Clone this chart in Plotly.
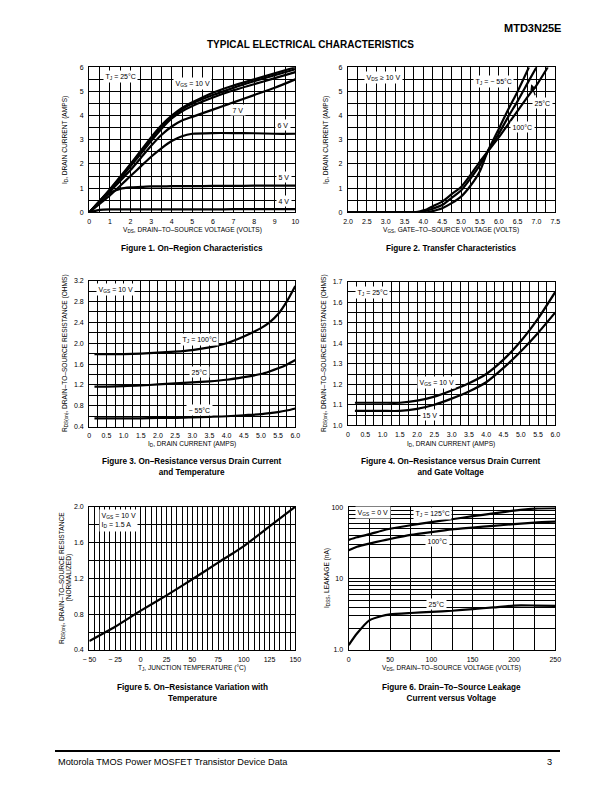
import plotly.graph_objects as go

# page is 612x792; the html body adds an 8px margin, so the figure is 596x776 offset by 8px
PAGE_OFF = 8
W, H = 612 - 2 * PAGE_OFF, 792 - 2 * PAGE_OFF
FONT = "Liberation Sans, Arial, Helvetica, sans-serif"

# ---------------- DATA ----------------
# Figure 1: On-Region Characteristics (VDS vs ID for VGS curves)
f1_vds = [0, 0.5, 1, 1.5, 2, 2.5, 3, 3.5, 4, 4.5, 5, 6, 7, 8, 9, 10]
f1_id = {
    "10 V": [0, 0.47, 0.95, 1.47, 2.0, 2.55, 3.1, 3.6, 4.0, 4.32, 4.55, 4.95, 5.25, 5.5, 5.75, 6.0],
    "9 V":  [0, 0.46, 0.93, 1.44, 1.95, 2.5, 3.05, 3.55, 3.95, 4.27, 4.5, 4.85, 5.15, 5.42, 5.67, 5.92],
    "8 V":  [0, 0.45, 0.9, 1.4, 1.9, 2.42, 2.95, 3.45, 3.88, 4.18, 4.4, 4.75, 5.05, 5.3, 5.55, 5.8],
    "7 V":  [0, 0.42, 0.85, 1.3, 1.75, 2.25, 2.75, 3.2, 3.55, 3.8, 3.95, 4.25, 4.55, 4.85, 5.15, 5.5],
    "6 V":  [0, 0.35, 0.7, 1.1, 1.5, 1.9, 2.3, 2.65, 2.95, 3.15, 3.25, 3.28, 3.28, 3.27, 3.25, 3.25],
    "5 V":  [0, 0.45, 0.8, 0.97, 1.03, 1.05, 1.07, 1.07, 1.08, 1.08, 1.08, 1.09, 1.09, 1.1, 1.1, 1.1],
    "4 V":  [0, 0.1, 0.12, 0.12, 0.12, 0.12, 0.12, 0.12, 0.12, 0.12, 0.12, 0.12, 0.13, 0.13, 0.13, 0.13],
}

# Figure 2: Transfer Characteristics (VGS vs ID for TJ)
f2_vgs = [2.0, 3.0, 3.75, 3.85, 4.0, 4.1, 4.25, 4.5, 4.75, 5.0, 5.25, 5.5, 5.7, 6.0, 6.25, 6.5, 6.8, 7.0, 7.3]
f2_id = {
    "-55": [0, 0, 0, 0, 0, 0, 0.05, 0.17, 0.38, 0.65, 1.1, 1.7, 2.5, 3.45, 4.25, 5.0, 6.0, None, None],
    "25":  [0, 0, 0, 0, 0.04, 0.08, 0.15, 0.3, 0.6, 0.9, 1.4, 1.95, 2.5, 3.25, 3.95, 4.6, 5.45, 6.0, None],
    "100": [0, 0, 0, 0.02, 0.08, 0.13, 0.25, 0.44, 0.75, 1.05, 1.55, 2.1, 2.5, 3.1, 3.65, 4.2, 4.85, 5.25, 6.0],
}

# Figure 3: RDS(on) vs ID and temperature (VGS = 10 V)
f3_id = [0.15, 0.5, 1.0, 1.5, 2.0, 2.5, 3.0, 3.5, 4.0, 4.5, 5.0, 5.25, 5.5, 5.75, 6.0]
f3_r = {
    "100": [1.79, 1.79, 1.79, 1.80, 1.82, 1.84, 1.87, 1.92, 2.0, 2.13, 2.29, 2.4, 2.56, 2.8, 3.1],
    "25":  [1.17, 1.17, 1.18, 1.19, 1.21, 1.23, 1.25, 1.27, 1.30, 1.35, 1.41, 1.46, 1.52, 1.59, 1.68],
    "-55": [0.56, 0.56, 0.56, 0.56, 0.57, 0.57, 0.58, 0.59, 0.60, 0.62, 0.64, 0.66, 0.68, 0.71, 0.75],
}

# Figure 4: RDS(on) vs ID and gate voltage (TJ = 25 C)
f4_id = [0.2, 0.5, 1.0, 1.5, 2.0, 2.5, 3.0, 3.5, 4.0, 4.5, 5.0, 5.5, 6.0]
f4_r = {
    "10 V": [1.11, 1.11, 1.11, 1.11, 1.12, 1.14, 1.17, 1.205, 1.25, 1.32, 1.41, 1.52, 1.65],
    "15 V": [1.07, 1.07, 1.07, 1.07, 1.08, 1.10, 1.13, 1.165, 1.21, 1.28, 1.36, 1.45, 1.55],
}

# Figure 5: normalized RDS(on) vs temperature
f5_tj = [-50, -25, 0, 25, 50, 75, 100, 125, 150]
f5_r = [0.50, 0.66, 0.84, 1.01, 1.19, 1.375, 1.56, 1.78, 2.0]

# Figure 6: IDSS leakage vs VDS
f6_vds = [0, 10, 25, 40, 50, 75, 100, 125, 150, 175, 200, 225, 250]
f6_i = {
    "125": [35, 38, 42, 47, 50, 56, 62, 68, 75, 82, 90, 96, 97],
    "100": [25, 28, 31, 34, 36, 41, 45, 49, 52, 55, 58, 61, 63],
    "25":  [1.17, 1.7, 2.6, 3.0, 3.15, 3.3, 3.42, 3.55, 3.75, 3.95, 4.2, 4.2, 4.15],
}

# ---------------- LAYOUT HELPERS ----------------
# pixel boxes on the page (left, top, right, bottom) for the six plotting areas
boxes = [
    (89.3, 67.3, 295.3, 212.3),
    (348.0, 67.3, 555.3, 212.3),
    (89.3, 280.7, 295.3, 426.7),
    (348.0, 281.7, 555.3, 425.3),
    (89.3, 506.7, 295.3, 650.0),
    (348.7, 507.3, 555.3, 650.0),
]

GRIDW = 1.3
LINEW = 2.2

fig = go.Figure()


def px_x(v):
    return (v - PAGE_OFF) / W


def px_y(v):
    return 1 - (v - PAGE_OFF) / H


def add_curve(i, x, y):
    suffix = "" if i == 1 else str(i)
    fig.add_trace(go.Scatter(x=x, y=y, mode="lines", xaxis="x" + suffix, yaxis="y" + suffix,
                             line=dict(color="black", width=LINEW, shape="spline", smoothing=0.6),
                             connectgaps=False, hoverinfo="skip", showlegend=False))


for k, v in f1_id.items():
    add_curve(1, f1_vds, v)
for k, v in f2_id.items():
    add_curve(2, f2_vgs, v)
for k, v in f3_r.items():
    add_curve(3, f3_id, v)
for k, v in f4_r.items():
    add_curve(4, f4_id, v)
add_curve(5, f5_tj, f5_r)
for k, v in f6_i.items():
    add_curve(6, f6_vds, v)


def axis(i, rng, tickvals, ticktext, minor, is_x, typ="linear", minor_vals=None):
    l, t, r, b = boxes[i - 1]
    d = dict(
        range=rng, type=typ, automargin=False,
        tickmode="array", tickvals=tickvals, ticktext=ticktext,
        showgrid=True, gridcolor="black", gridwidth=GRIDW,
        showline=True, linecolor="black", linewidth=GRIDW, mirror=True,
        ticks="", zeroline=False, fixedrange=True,
        tickfont=dict(family=FONT, size=7, color="black"),
        anchor=("y" if is_x else "x") + ("" if i == 1 else str(i)),
    )
    if minor_vals is not None:
        d["minor"] = dict(tickmode="array", tickvals=minor_vals, showgrid=True,
                          gridcolor="black", gridwidth=GRIDW, ticks="")
    else:
        d["minor"] = dict(dtick=minor, showgrid=True, gridcolor="black", gridwidth=GRIDW, ticks="")
    if is_x:
        d["domain"] = [px_x(l), px_x(r)]
        d["ticklabelstandoff"] = 2
    else:
        d["domain"] = [px_y(b), px_y(t)]
        d["ticklabelstandoff"] = 3
    return d


def lin(a, b, s, fmt):
    vals = []
    v = a
    while v <= b + 1e-9:
        vals.append(round(v, 6))
        v += s
    return vals, [fmt(x) for x in vals]


x1v, x1t = lin(0, 10, 1, lambda v: "%d" % v)
y1v, y1t = lin(0, 6, 1, lambda v: "%d" % v)
x2v, x2t = lin(2, 7.5, 0.5, lambda v: "%.1f" % v)
x3v, x3t = lin(0, 6, 0.5, lambda v: "0" if v == 0 else "%.1f" % v)
y3v, y3t = lin(0.4, 3.2, 0.4, lambda v: "%.1f" % v)
y4v, y4t = lin(1.0, 1.7, 0.1, lambda v: "%.1f" % v)
x5v, x5t = lin(-50, 150, 25, lambda v: ("\u2212 %d" % -v) if v < 0 else "%d" % v)
y5v, y5t = lin(0.4, 2.0, 0.4, lambda v: "%.1f" % v)
x6v, x6t = lin(0, 250, 50, lambda v: "%d" % v)
y6v, y6t = [1, 10, 100], ["1.0", "10", "100"]
y6minor = [2, 3, 4, 5, 6, 7, 8, 9, 20, 30, 40, 50, 60, 70, 80, 90]

layout_axes = {
    "xaxis": axis(1, [0, 10], x1v, x1t, 0.5, True),
    "yaxis": axis(1, [0, 6], y1v, y1t, 0.5, False),
    "xaxis2": axis(2, [2, 7.5], x2v, x2t, 0.25, True),
    "yaxis2": axis(2, [0, 6], y1v, y1t, 0.5, False),
    "xaxis3": axis(3, [0, 6], x3v, x3t, 0.25, True),
    "yaxis3": axis(3, [0.4, 3.2], y3v, y3t, 0.2, False),
    "xaxis4": axis(4, [0, 6], x3v, x3t, 0.25, True),
    "yaxis4": axis(4, [1.0, 1.7], y4v, y4t, 0.05, False),
    "xaxis5": axis(5, [-50, 150], x5v, x5t, 5, True),
    "yaxis5": axis(5, [0.4, 2.0], y5v, y5t, 0.2, False),
    "xaxis6": axis(6, [0, 250], x6v, x6t, 25, True),
    "yaxis6": axis(6, [0, 2], y6v, y6t, None, False, typ="log", minor_vals=y6minor),
}

ann = []


def ptext(x, y, text, size=7, bold=False, xanchor="center", yanchor="middle", angle=0, align="center"):
    t = "<b>%s</b>" % text if bold else text
    ann.append(dict(xref="paper", yref="paper", x=px_x(x), y=px_y(y), text=t, showarrow=False,
                    xanchor=xanchor, yanchor=yanchor, textangle=angle, align=align,
                    font=dict(family=FONT, size=size, color="black")))


def label(i, x, y, text, size=7, align="center"):
    s = "" if i == 1 else str(i)
    ann.append(dict(xref="x" + s, yref="y" + s, x=x, y=y, text=text, showarrow=False,
                    bgcolor="white", borderpad=1.5, align=align,
                    font=dict(family=FONT, size=size, color="black")))


TS = 6.6  # axis title size
CS = 8.2  # caption size

# header / footer
ptext(563, 28, "MTD3N25E", size=11, bold=True, xanchor="right")
ptext(310, 44, "TYPICAL ELECTRICAL CHARACTERISTICS", size=10, bold=True)
ptext(56, 762, "Motorola TMOS Power MOSFET Transistor Device Data", size=9.2, xanchor="left")
ptext(554, 762, "3", size=9.2, xanchor="right")

# axis titles
ptext(192, 230, "V<sub>DS</sub>, DRAIN\u2013TO\u2013SOURCE VOLTAGE (VOLTS)", size=TS)
ptext(65, 140, "I<sub>D</sub>, DRAIN CURRENT (AMPS)", size=TS, angle=-90)
ptext(451, 230, "V<sub>GS</sub>, GATE\u2013TO\u2013SOURCE VOLTAGE (VOLTS)", size=TS)
ptext(326, 140, "I<sub>D</sub>, DRAIN CURRENT (AMPS)", size=TS, angle=-90)
ptext(192, 444, "I<sub>D</sub>, DRAIN CURRENT (AMPS)", size=TS)
ptext(65, 353, "R<sub>DS(on)</sub>, DRAIN\u2013TO\u2013SOURCE RESISTANCE (OHMS)", size=TS, angle=-90)
ptext(451, 444, "I<sub>D</sub>, DRAIN CURRENT (AMPS)", size=TS)
ptext(324, 353, "R<sub>DS(on)</sub>, DRAIN\u2013TO\u2013SOURCE RESISTANCE (OHMS)", size=TS, angle=-90)
ptext(192, 668, "T<sub>J</sub>, JUNCTION TEMPERATURE (\u00b0C)", size=TS)
ptext(62, 578, "R<sub>DS(on)</sub>, DRAIN\u2013TO\u2013SOURCE RESISTANCE", size=TS, angle=-90)
ptext(68.5, 578, "(NORMALIZED)", size=TS, angle=-90)
ptext(451, 668, "V<sub>DS</sub>, DRAIN\u2013TO\u2013SOURCE VOLTAGE (VOLTS)", size=TS)
ptext(327, 578, "I<sub>DSS</sub>, LEAKAGE (nA)", size=TS, angle=-90)

# captions
ptext(192, 248, "Figure 1. On\u2013Region Characteristics", size=CS, bold=True)
ptext(451, 248, "Figure 2. Transfer Characteristics", size=CS, bold=True)
ptext(192, 467, "Figure 3. On\u2013Resistance versus Drain Current<br>and Temperature", size=CS, bold=True)
ptext(451, 467, "Figure 4. On\u2013Resistance versus Drain Current<br>and Gate Voltage", size=CS, bold=True)
ptext(192, 693, "Figure 5. On\u2013Resistance Variation with<br>Temperature", size=CS, bold=True)
ptext(451, 693, "Figure 6. Drain\u2013To\u2013Source Leakage<br>Current versus Voltage", size=CS, bold=True)

# in-plot labels
label(1, 1.5, 5.63, "T<sub>J</sub> = 25\u00b0C")
label(1, 5.0, 5.35, "V<sub>GS</sub> = 10 V")
label(1, 7.2, 4.22, "7 V")
label(1, 9.4, 3.6, "6 V")
label(1, 9.45, 1.46, "5 V")
label(1, 9.45, 0.46, "4 V")

label(2, 2.95, 5.57, "V<sub>DS</sub> \u2265 10 V")
label(2, 5.87, 5.43, "T<sub>J</sub> = \u2212 55\u00b0C")
label(2, 7.17, 4.52, "25\u00b0C")
label(2, 6.64, 3.52, "100\u00b0C")
ann.append(dict(xref="x2", yref="y2", x=6.86, y=5.3, ax=6.98, ay=4.78, axref="x2", ayref="y2",
                text="", showarrow=True, arrowhead=2, arrowsize=1, arrowwidth=1.2, arrowcolor="black"))

label(3, 0.75, 3.03, "V<sub>GS</sub> = 10 V")
label(3, 3.2, 2.07, "T<sub>J</sub> = 100\u00b0C")
label(3, 3.22, 1.45, "25\u00b0C")
label(3, 3.2, 0.72, "\u2212 55\u00b0C")

label(4, 0.7, 1.645, "T<sub>J</sub> = 25\u00b0C")
label(4, 2.55, 1.21, "V<sub>GS</sub> = 10 V")
label(4, 2.38, 1.048, "15 V")

label(5, -21.6, 1.845, "V<sub>GS</sub> = 10 V<br>I<sub>D</sub> = 1.5 A", align="left")

label(6, 29.4, 1.93, "V<sub>GS</sub> = 0 V")
label(6, 100.8, 1.914, "T<sub>J</sub> = 125\u00b0C")
label(6, 107, 1.529, "100\u00b0C")
label(6, 106, 0.645, "25\u00b0C")

shapes = [dict(type="line", xref="paper", yref="paper", x0=px_x(55), x1=px_x(560),
               y0=px_y(751), y1=px_y(751), line=dict(color="black", width=2))]

fig.update_layout(
    template="none",
    width=W, height=H, margin=dict(l=0, r=0, t=0, b=0, autoexpand=False),
    paper_bgcolor="white", plot_bgcolor="white",
    showlegend=False, annotations=ann, shapes=shapes,
    font=dict(family=FONT, color="black"),
    **layout_axes,
)

fig.write_html("out.html", config={"displayModeBar": False})
